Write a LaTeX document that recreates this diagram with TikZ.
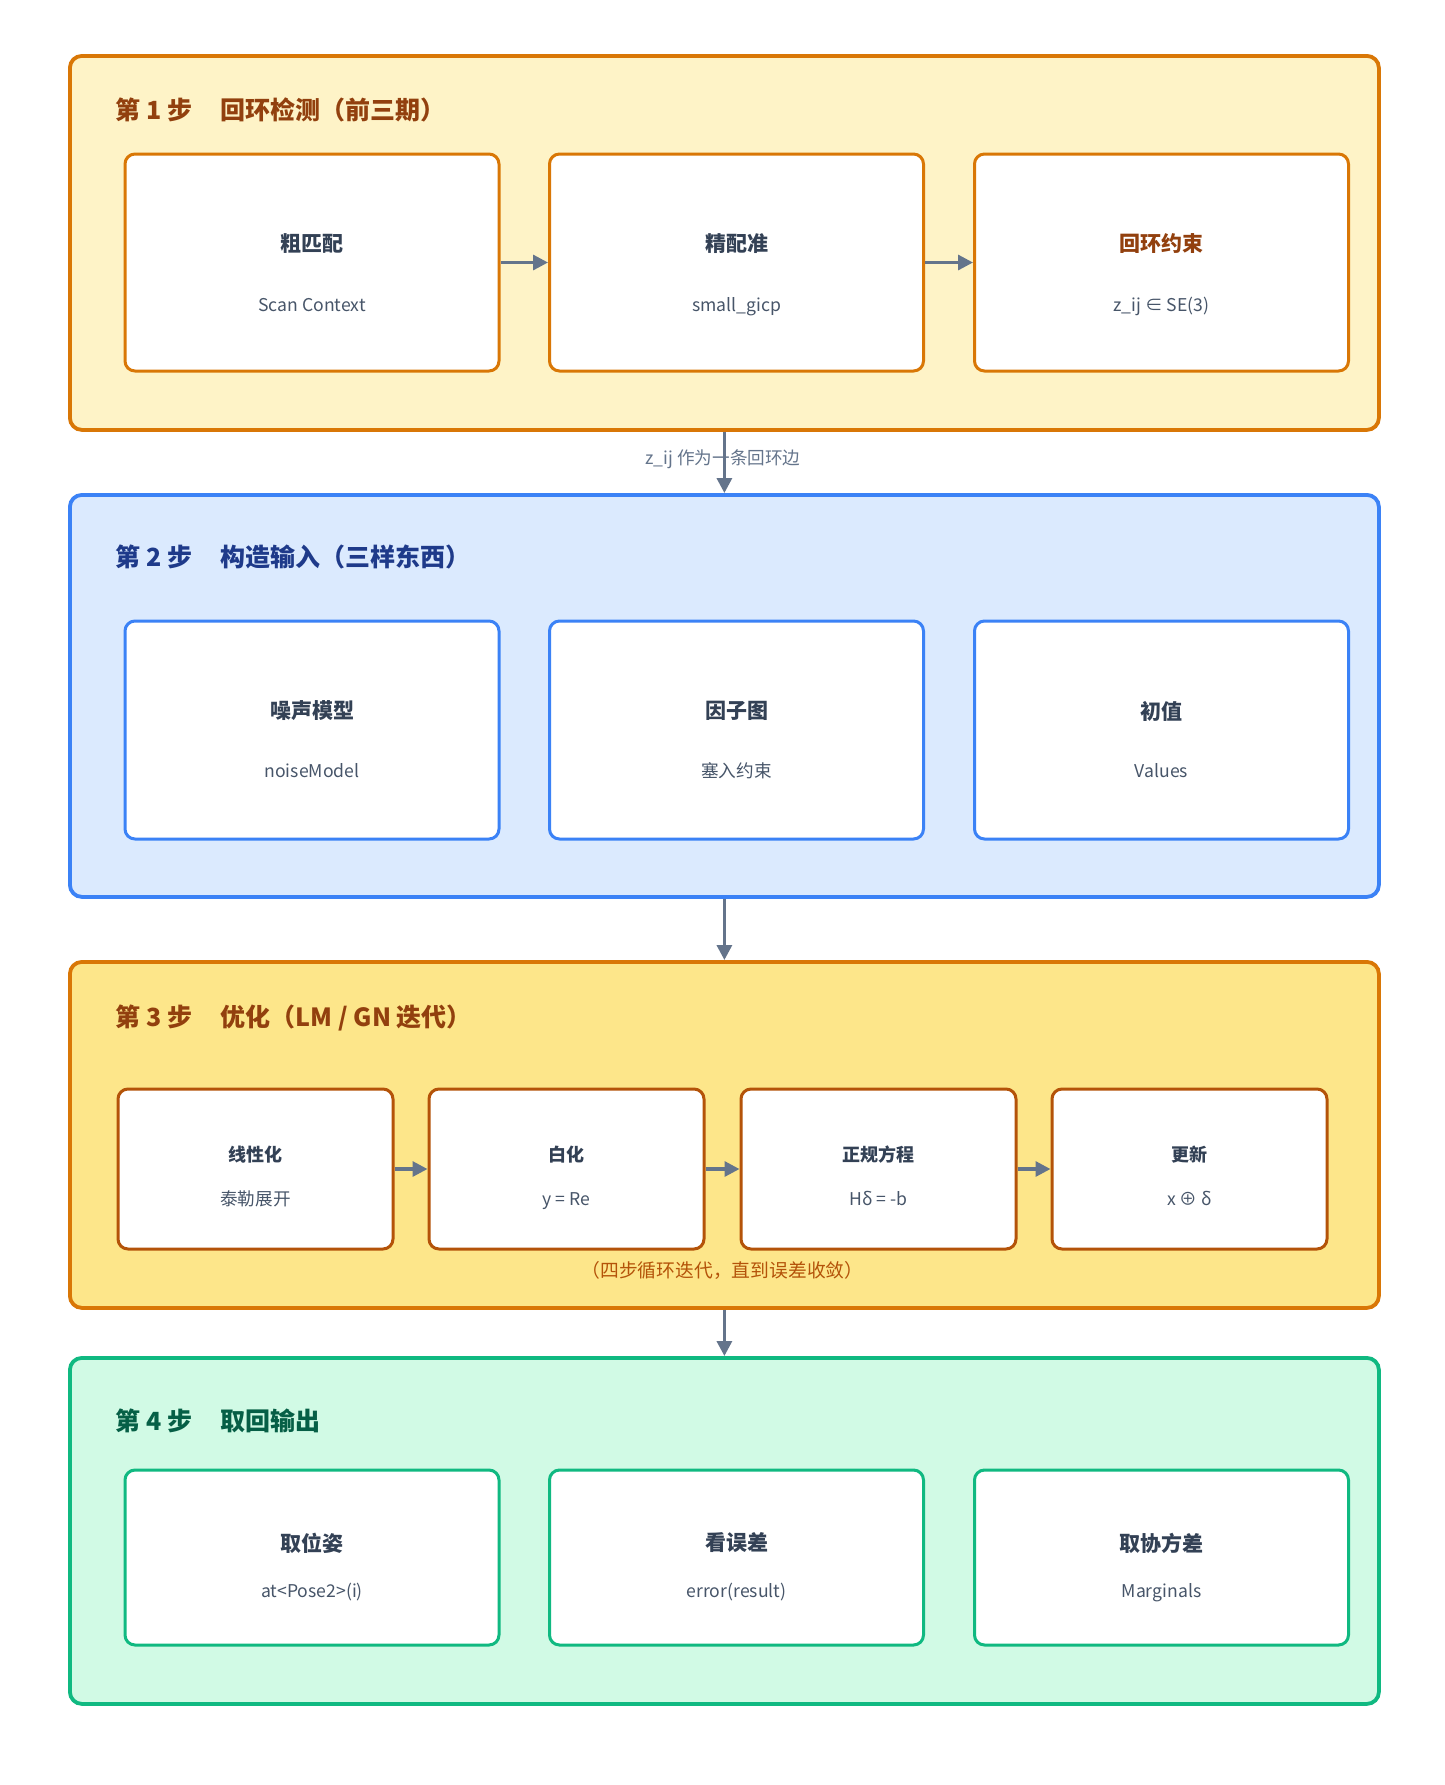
\documentclass[tikz,border=0pt]{standalone}
\usepackage{fontspec}
\setmainfont{Noto Sans CJK SC}
\usetikzlibrary{arrows.meta}
\definecolor{ambfill}{HTML}{FEF3C7}
\definecolor{ambdraw}{HTML}{D97706}
\definecolor{ambtext}{HTML}{92400E}
\definecolor{amb2fill}{HTML}{FDE68A}
\definecolor{amb2card}{HTML}{B45309}
\definecolor{bluefill}{HTML}{DBEAFE}
\definecolor{bluedraw}{HTML}{3B82F6}
\definecolor{bluetext}{HTML}{1E3A8A}
\definecolor{grnfill}{HTML}{D1FAE5}
\definecolor{grndraw}{HTML}{10B981}
\definecolor{grntext}{HTML}{065F46}
\definecolor{ctext}{HTML}{334155}
\definecolor{cstext}{HTML}{475569}
\definecolor{arrowc}{HTML}{64748B}
\begin{document}
\begin{tikzpicture}[x=0.5pt,y=-0.5pt,
  group/.style={draw, line width=1.9pt, rounded corners=6pt, anchor=north west,
    minimum width=654.5pt, inner sep=0pt},
  gtitle/.style={anchor=west, inner sep=0pt, font=\bfseries\fontsize{12.5}{15}\selectfont},
  card/.style={draw, fill=white, line width=1.5pt, rounded corners=5pt, inner sep=0pt},
  bigcard/.style={card, minimum width=187pt},
  smallcard/.style={card, minimum width=137.5pt, minimum height=80pt, draw=amb2card},
  ctitle/.style={inner sep=0pt, text=ctext, font=\bfseries\fontsize{10.5}{12}\selectfont},
  stitle/.style={inner sep=0pt, text=ctext, font=\bfseries\fontsize{9}{11}\selectfont},
  csub/.style={inner sep=0pt, text=cstext, text height=0.75em, text depth=0.2em,
    font=\fontsize{8.8}{10}\selectfont},
  lab/.style={inner sep=0pt, text=arrowc, font=\fontsize{8.8}{10}\selectfont},
  flow/.style={draw=arrowc, line width=1.6pt, -{Triangle[length=7.5pt,width=7.5pt]}}
]
\useasboundingbox[fill=white] (0,0) rectangle (1445,1785);

% ---------- Group 1 ----------
\node[group, draw=ambdraw, fill=ambfill, minimum height=187pt] (g1) at (68,54) {};
\node[gtitle, text=ambtext] (g1t) at (115,110) {第 1 步\hspace{1.15em}回环检测（前三期）};
\node[bigcard, draw=ambdraw, minimum height=108.5pt] (a1) at (312,262.5) {};
\node[bigcard, draw=ambdraw, minimum height=108.5pt] (a2) at (736.5,262.5) {};
\node[bigcard, draw=ambdraw, minimum height=108.5pt] (a3) at (1161.5,262.5) {};
\node[ctitle] (a1t) at (312,243.5) {粗匹配};
\node[csub] (a1s) at (312,305.5) {Scan Context};
\node[ctitle] (a2t) at (736.5,243.5) {精配准};
\node[csub] (a2s) at (736.5,305.5) {small\_gicp};
\node[ctitle, text=ambtext] (a3t) at (1161.5,243.5) {回环约束};
\node[csub] (a3s) at (1161.5,305.5) {z\_ij ∈ SE(3)};
\draw[flow] (a1.east) -- (a2.west);
\draw[flow] (a2.east) -- (a3.west);

% ---------- Group 2 ----------
\node[group, draw=bluedraw, fill=bluefill, minimum height=201pt] (g2) at (68,493) {};
\node[gtitle, text=bluetext] (g2t) at (115,557) {第 2 步\hspace{1.15em}构造输入（三样东西）};
\node[bigcard, draw=bluedraw, minimum height=109pt] (c1) at (312,730) {};
\node[bigcard, draw=bluedraw, minimum height=109pt] (c2) at (736.5,730) {};
\node[bigcard, draw=bluedraw, minimum height=109pt] (c3) at (1161.5,730) {};
\node[ctitle] (c1t) at (312,711) {噪声模型};
\node[csub] (c1s) at (312,772) {noiseModel};
\node[ctitle] (c2t) at (736.5,711) {因子图};
\node[csub] (c2s) at (736.5,772) {塞入约束};
\node[ctitle] (c3t) at (1161.5,711) {初值};
\node[csub] (c3s) at (1161.5,772) {Values};

% ---------- Group 3 ----------
\node[group, draw=ambdraw, fill=amb2fill, minimum height=173pt] (g3) at (68,960) {};
\node[gtitle, text=ambtext] (g3t) at (115,1018) {第 3 步\hspace{1.15em}优化（LM / GN 迭代）};
\node[smallcard] (b1) at (255.5,1169) {};
\node[smallcard] (b2) at (566.5,1169) {};
\node[smallcard] (b3) at (878.5,1169) {};
\node[smallcard] (b4) at (1189.5,1169) {};
\node[stitle] (b1t) at (255.5,1155) {线性化};
\node[csub] (b1s) at (255.5,1199.5) {泰勒展开};
\node[stitle] (b2t) at (566.5,1155) {白化};
\node[csub] (b2s) at (566.5,1199.5) {y = Re};
\node[stitle] (b3t) at (878.5,1155) {正规方程};
\node[csub] (b3s) at (878.5,1199.5) {Hδ = -b};
\node[stitle] (b4t) at (1189.5,1155) {更新};
\node[csub] (b4s) at (1189.5,1199.5) {x ⊕ δ};
\draw[flow] (b1.east) -- (b2.west);
\draw[flow] (b2.east) -- (b3.west);
\draw[flow] (b3.east) -- (b4.west);
\node[csub, text=amb2card, font=\fontsize{9.4}{11}\selectfont] (note) at (722.5,1272) {（四步循环迭代，直到误差收敛）};

% ---------- Group 4 ----------
\node[group, draw=grndraw, fill=grnfill, minimum height=173pt] (g4) at (68,1356) {};
\node[gtitle, text=grntext] (g4t) at (115,1421) {第 4 步\hspace{1.15em}取回输出};
\node[bigcard, draw=grndraw, minimum height=87.5pt] (d1) at (312,1557.5) {};
\node[bigcard, draw=grndraw, minimum height=87.5pt] (d2) at (736.5,1557.5) {};
\node[bigcard, draw=grndraw, minimum height=87.5pt] (d3) at (1161.5,1557.5) {};
\node[ctitle] (d1t) at (312,1543) {取位姿};
\node[csub] (d1s) at (312,1591.5) {at<Pose2>(i)};
\node[ctitle] (d2t) at (736.5,1543) {看误差};
\node[csub] (d2s) at (736.5,1591.5) {error(result)};
\node[ctitle] (d3t) at (1161.5,1543) {取协方差};
\node[csub] (d3s) at (1161.5,1591.5) {Marginals};

% ---------- Inter-group connectors ----------
\node[lab] (l1) at (723,459) {z\_ij 作为一条回环边};
\draw[flow] (g1.south) -- (g2.north);
\draw[flow] (g2.south) -- (g3.north);
\draw[flow] (g3.south) -- (g4.north);
\end{tikzpicture}
\end{document}
